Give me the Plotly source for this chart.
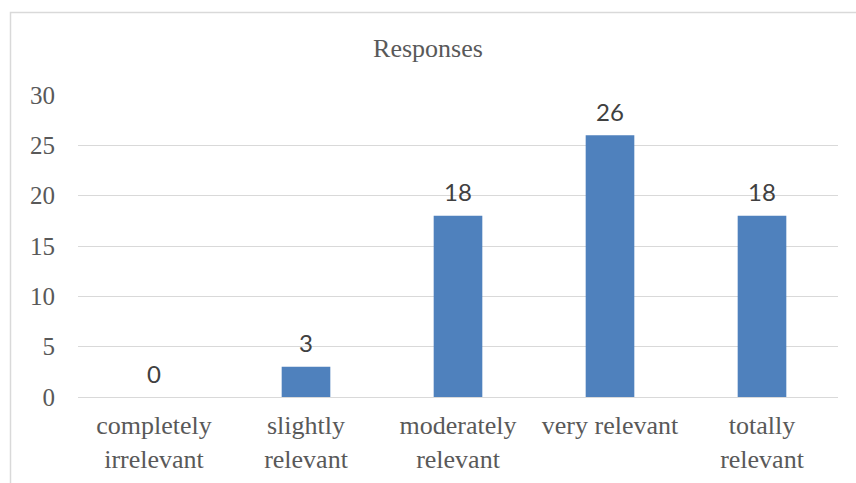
import plotly.graph_objects as go

categories = ["completely<br>irrelevant", "slightly<br>relevant", "moderately<br>relevant",
              "very relevant", "totally<br>relevant"]
responses = [0, 3, 18, 26, 18]
y_ticks = [0, 5, 10, 15, 20, 25, 30]

W, H = 856, 483
ml, mr, mt, mb = 78, 18, 95, 86
pw, ph = W - ml - mr, H - mt - mb

def px_x(x):
    return (x - ml) / pw

def px_y(y):
    return (H - mb - y) / ph

serif = "Liberation Serif, Times New Roman, serif"
text_col = "#595959"

fig = go.Figure(go.Bar(
    x=categories, y=responses,
    marker=dict(color="#4F81BD", line=dict(width=0)),
    width=0.32,
    cliponaxis=False,
))

# value labels above each bar
for cat, val in zip(categories, responses):
    fig.add_annotation(x=cat, y=val, text=str(val), showarrow=False,
                       yanchor="middle", yshift=24,
                       font=dict(family="Lato, Carlito, Calibri, sans-serif", size=24, color="#404040"))

fig.update_layout(
    width=W, height=H,
    margin=dict(l=ml, r=mr, t=mt, b=mb),
    paper_bgcolor="white", plot_bgcolor="white",
    showlegend=False,
    title=dict(text="Responses", x=0.5, xanchor="center", y=1 - 48 / H, yanchor="middle",
               font=dict(family=serif, size=26, color=text_col)),
    xaxis=dict(showgrid=False, ticks="", showline=False, zeroline=False,
               ticklabelstandoff=10, automargin=False,
               tickfont=dict(family=serif, size=26, color=text_col)),
    yaxis=dict(range=[0, 30], tickvals=y_ticks, showgrid=True, gridcolor="#D9D9D9",
               gridwidth=1.3, zeroline=True, zerolinecolor="#D9D9D9", zerolinewidth=1.3,
               ticks="", ticklabelstandoff=22, automargin=False,
               tickfont=dict(family=serif, size=25, color=text_col)),
    shapes=[dict(type="rect", xref="paper", yref="paper",
                 x0=px_x(10.5), x1=px_x(W + 20), y0=px_y(H + 20), y1=px_y(12.5),
                 line=dict(color="#D9D9D9", width=1.5), layer="below")],
)

fig.write_html("out.html")
